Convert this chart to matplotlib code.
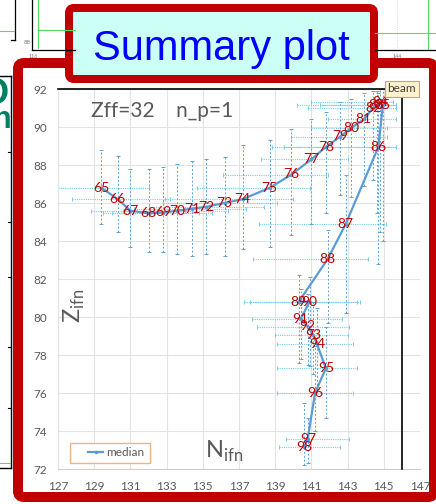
import numpy as np
import matplotlib
matplotlib.use('Agg')
import matplotlib.pyplot as plt
from matplotlib.patches import FancyBboxPatch, Rectangle
from matplotlib.lines import Line2D
from matplotlib.transforms import Affine2D

W, H = 436, 504

# data
labels = list(range(65, 99))
n_med = [129.4, 130.3, 131.0, 132.0, 132.8, 133.6, 134.4, 135.2, 136.2, 137.2,
         138.7, 139.9, 141.0, 141.8, 142.6, 143.2, 143.9, 144.4, 144.6, 144.8,
         144.95, 144.7, 142.9, 141.9, 140.3, 140.9, 140.4, 140.8, 141.1, 141.3,
         141.8, 141.2, 140.8, 140.6]
z_med = [86.8, 86.2, 85.6, 85.45, 85.5, 85.6, 85.7, 85.8, 86.0, 86.2,
         86.8, 87.5, 88.3, 88.95, 89.5, 89.95, 90.4, 91.0, 91.15, 91.3,
         91.15, 88.95, 84.9, 83.05, 80.8, 80.8, 79.9, 79.5, 79.05, 78.6,
         77.3, 76.0, 73.6, 73.15]
n_lo = [127.0, 127.8, 128.8, 129.5, 130.0, 130.6, 131.2, 132.0, 132.8, 132.9,
        134.7, 136.1, 138.2, 138.8, 139.9, 141.0, 141.9, 140.8, 140.2, 141.0,
        141.5, 139.5, 138.1, 137.8, 137.3, 137.6, 137.7, 138.0, 139.0, 139.1,
        139.1, 139.1, 139.6, 139.2]
n_hi = [132.0, 133.2, 134.0, 134.8, 135.5, 136.4, 137.4, 138.4, 139.1, 140.0,
        140.9, 141.9, 143.0, 145.7, 145.2, 145.2, 145.7, 145.7, 145.7, 145.5,
        145.7, 145.7, 145.1, 144.1, 143.7, 143.5, 142.7, 143.1, 143.0, 143.3,
        143.5, 143.3, 143.1, 142.6]
z_lo = [84.9, 84.5, 83.7, 83.4, 83.4, 83.3, 83.2, 83.3, 83.2, 83.6,
        83.7, 84.3, 84.9, 85.5, 86.4, 86.3, 86.9, 87.2, 85.5, 84.5,
        84.0, 82.8, 80.2, 79.7, 77.6, 77.4, 77.8, 77.5, 77.0, 76.2,
        74.7, 74.0, 72.3, 72.2]
z_hi = [88.8, 88.5, 87.8, 87.8, 87.9, 88.05, 88.2, 88.3, 88.4, 89.05,
        89.3, 89.9, 90.4, 90.8, 91.3, 91.5, 91.8, 91.9, 91.9, 92.0,
        92.0, 91.8, 87.5, 84.6, 82.2, 82.1, 81.5, 81.2, 80.8, 80.5,
        79.5, 78.5, 74.7, 75.5]
beam_n, beam_z = 146, 92
x_ticks = list(range(127, 148, 2))
y_ticks = list(range(72, 93, 2))

plt.rcParams['font.family'] = ['Lato', 'DejaVu Sans']
plt.rcParams['mathtext.fontset'] = 'custom'
plt.rcParams['mathtext.rm'] = 'Lato'

red = '#C00000'
gray = '#595959'

fig = plt.figure(figsize=(W / 100, H / 100), dpi=100)
pix = Affine2D().scale(1, -1).translate(0, H)   # pixel coords, origin top-left


def pline(xs, ys, color, lw=1.0, ls='-'):
    fig.add_artist(Line2D(xs, ys, color=color, lw=lw, ls=ls, transform=pix))


# bits of the slide behind
pline([15, 15], [0, 40], 'black', 0.9)
pline([11, 15], [40, 40], 'black', 0.9)
pline([0, 14], [31, 31], '#55DD55', 0.8)
pline([32, 32], [0, 50], 'black', 0.9)
pline([32, 75], [50, 50], 'black', 0.9)
pline([38, 38], [0, 48], '#55DD55', 0.8)
pline([38, 75], [30, 30], '#55DD55', 0.8)
fig.text(27 / W, 1 - 43 / H, '88', fontsize=4.5, color='#777777', ha='center', va='center')
fig.text(33 / W, 1 - 57 / H, '116', fontsize=4, color='#777777', ha='center', va='center')
pline([397, 397], [0, 48], '#CCCCCC', 0.6, ':')
pline([428, 428], [0, 50], '#55DD55', 0.8)
pline([375, 436], [33, 33], '#55DD55', 0.8)
pline([375, 436], [50, 50], 'black', 0.9)
fig.text(397 / W, 1 - 56 / H, '144', fontsize=4, color='#777777', ha='center', va='center')
pline([11, 11], [76, 468], 'black', 1.0)
pline([0, 11], [76, 76], 'black', 1.0)
pline([0, 11], [468, 468], 'black', 1.0)
for ty in [152, 222, 277, 347, 408]:
    pline([8, 11], [ty, ty], 'black', 0.8)
pline([0, 10], [463, 463], '#55DD55', 0.8)
fig.text(9 / W, 1 - 94 / H, 'O', fontsize=26, fontweight='bold', color='#008060',
         ha='right', va='center', family=['Liberation Sans'])
fig.text(11 / W, 1 - 128 / H, 'n', fontsize=22, fontweight='bold', color='#008060',
         ha='right', va='baseline', family=['Liberation Sans'])

# chart
ax = fig.add_axes([58 / W, (H - 469) / H, 362 / W, 380 / H])
ax.set_xlim(127, 147)
ax.set_ylim(72, 92)
ax.set_xticks(x_ticks)
ax.set_yticks(y_ticks)
ax.grid(color='#E3E3E3', lw=0.8)
ax.set_axisbelow(True)
for s in ['top', 'right']:
    ax.spines[s].set_visible(False)
ax.spines['left'].set_color('#E3E3E3')
ax.spines['bottom'].set_color('#CFCFCF')
ax.tick_params(length=0, labelsize=8.5, labelcolor=gray)
ax.tick_params(axis='x', pad=9)
ax.tick_params(axis='y', pad=8)

nm = np.array(n_med)
zm = np.array(z_med)
eb = ax.errorbar(nm, zm, xerr=[nm - np.array(n_lo), np.array(n_hi) - nm], fmt='none',
                 ecolor='#72CDF2', elinewidth=0.8, capsize=1.5, capthick=0.7, zorder=2)
eb[2][0].set_linestyle((0, (1, 1)))
eb = ax.errorbar(nm, zm, yerr=[zm - np.array(z_lo), np.array(z_hi) - zm], fmt='none',
                 ecolor='#5FA3DA', elinewidth=0.7, capsize=1.5, capthick=0.7, zorder=2)
eb[2][0].set_linestyle((0, (2, 2)))

ax.plot(nm, zm, color='#5B9BD5', lw=1.6, marker='o', ms=1.5, label='median', zorder=4)
for lab, x, y in zip(labels, n_med, z_med):
    ax.text(x, y, str(lab), color=red, fontsize=10, ha='center', va='center', zorder=5,
            family=['Liberation Sans Narrow', 'Lato'])

# beam lines
ax.plot([127, beam_n], [beam_z, beam_z], color='black', lw=1.2, clip_on=False, zorder=3)
ax.plot([beam_n, beam_n], [beam_z, 72], color='black', lw=1.2, clip_on=False, zorder=3)
ax.text(beam_n, beam_z, 'beam', ha='center', va='center', fontsize=8.5, color='#404040',
        bbox=dict(boxstyle='square,pad=0.2', fc='#FFF2CC', ec='#B8A88A', lw=0.8), zorder=6)

ax.text(128.82, 90.53, 'Zff=32    n_p=1', fontsize=15, color=gray, va='baseline')
ax.text(127.88, 80.6, r'Z$_{\mathregular{ifn}}$', fontsize=17, color=gray, rotation=90,
        ha='center', va='center')
ax.text(135.12, 72.58, r'N$_{\mathregular{ifn}}$', fontsize=17, color=gray, va='baseline')

ax.add_patch(Rectangle(((70 - 58) / 362, (469 - 463) / 380), 80 / 362, 20 / 380,
                       transform=ax.transAxes, fc='white', ec='#F4B183', lw=1, zorder=6))
ax.legend(loc='center left', bbox_to_anchor=((88 - 58) / 362, (469 - 453) / 380),
          frameon=False, fontsize=8.5, handlelength=1.3, handletextpad=0.2,
          labelcolor=gray, borderpad=0, borderaxespad=0).set_zorder(7)

# red frame and title box
fig.add_artist(FancyBboxPatch((18, 63), 416, 434, boxstyle='round,pad=0,rounding_size=6',
                              fc='none', ec=red, lw=10 * 0.72, transform=pix))
fig.add_artist(FancyBboxPatch((69, 8), 305, 71, boxstyle='round,pad=0,rounding_size=5',
                              fc='#CCFFF6', ec=red, lw=8 * 0.72, transform=pix))
fig.text(221 / W, 1 - 60 / H, 'Summary plot', fontsize=30, color='#0000FF',
         ha='center', va='baseline', family=['Liberation Sans'])

fig.savefig('out.png', dpi=100)
